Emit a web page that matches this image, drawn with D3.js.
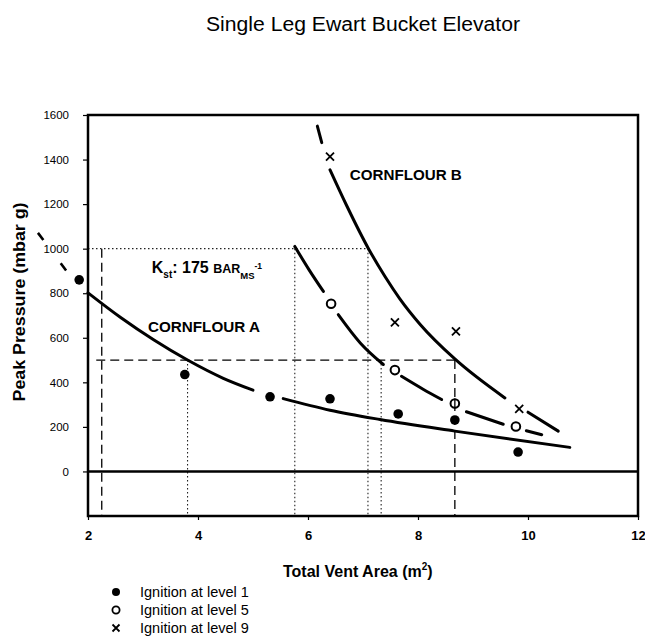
<!DOCTYPE html>
<html>
<head>
<meta charset="utf-8">
<script src="https://cdn.jsdelivr.net/npm/d3@7"></script>
<style>
  body { margin: 0; background: #fff; }
  svg { display: block; }
  text { font-family: "Liberation Sans", Arial, Helvetica, sans-serif; fill: #000; }
</style>
</head>
<body>
<svg id="chart" width="645" height="637"></svg>
<script>
// Axis ticks
const xTicks = [2, 4, 6, 8, 10, 12];
const yTicks = [0, 200, 400, 600, 800, 1000, 1200, 1400, 1600];

// Measured peak pressures (vent area m², pressure mbar g)
const level1 = [[1.84, 860], [3.76, 435], [5.31, 335], [6.40, 326], [7.64, 258], [8.67, 231], [9.82, 87]];
const level5 = [[6.42, 753], [7.58, 455], [8.67, 305], [9.78, 202]];
const level9 = [[6.40, 1413], [7.58, 669], [8.69, 629], [9.84, 281]];

// Fitted curves, drawn as broken segments
const curveA = [
  [[2.0, 802], [2.6, 690], [3.2, 590], [3.81, 500], [4.46, 418], [5.0, 365]],
  [[5.55, 327], [6.4, 275], [7.31, 233], [8.67, 181], [10.76, 108]]
];
const curveB5 = [
  [[5.76, 1010], [6.02, 905], [6.28, 808]],
  [[6.55, 704], [6.95, 577], [7.37, 480]],
  [[7.70, 427], [8.10, 368], [8.43, 323]],
  [[8.88, 268], [9.55, 212]],
  [[9.97, 183], [10.25, 165]]
];
const curveB9 = [
  [[6.17, 1550], [6.25, 1476]],
  [[6.40, 1354], [6.70, 1195], [7.10, 1000], [7.40, 875], [7.67, 775], [8.04, 660], [8.67, 505], [9.58, 330]],
  [[10.0, 266], [10.55, 181]]
];
// Short dashed extension beyond the pressure axis
const curveAExt = [[1.09, 1071], [1.62, 896]];

// Reading guides: [x1, y1, x2, y2]
const dashedGuides = [
  [2.25, 1000, 2.25, -200],
  [2.15, 500, 8.67, 500],
  [8.67, 500, 8.67, -200]
];
const dottedGuides = [
  [2.0, 1000, 7.09, 1000],
  [3.81, 500, 3.81, -200],
  [5.76, 1000, 5.76, -200],
  [7.09, 1000, 7.09, -200],
  [7.33, 500, 7.33, -200]
];

// Curve labels (data-space anchors)
const labelA = { text: "CORNFLOUR A", at: [3.09, 628] };
const labelB = { text: "CORNFLOUR B", at: [6.76, 1309] };
const kstAt = [3.16, 892];

const legendItems = ["Ignition at level 1", "Ignition at level 5", "Ignition at level 9"];

const svg = d3.select("#chart");
const x = d3.scaleLinear().domain([2, 12]).range([88, 638]);
const y = d3.scaleLinear().domain([-200, 1600]).range([516, 115]);

// Title
svg.append("text")
  .attr("x", 363).attr("y", 31)
  .attr("text-anchor", "middle")
  .attr("font-size", 20)
  .attr("textLength", 314).attr("lengthAdjust", "spacingAndGlyphs")
  .text("Single Leg Ewart Bucket Elevator");

// Axes
const gy = svg.append("g").attr("transform", `translate(${x(2)},0)`)
  .call(d3.axisLeft(y).tickValues(yTicks).tickSize(5).tickPadding(14).tickFormat(d3.format("d")));
gy.select(".domain").remove();
gy.selectAll("text").attr("font-size", 11.5).style("font-family", "Liberation Sans, Arial, sans-serif");
gy.selectAll("line").attr("stroke-width", 1.2);

const gx = svg.append("g").attr("transform", `translate(0,${y(-200)})`)
  .call(d3.axisBottom(x).tickValues(xTicks).tickSize(4).tickPadding(11).tickFormat(d3.format("d")));
gx.select(".domain").remove();
gx.selectAll("text").attr("font-size", 13).attr("font-weight", "bold").style("font-family", "Liberation Sans, Arial, sans-serif");
gx.selectAll("line").attr("stroke-width", 1.2);

// Axis titles
svg.append("text")
  .attr("transform", `translate(25,302) rotate(-90)`)
  .attr("text-anchor", "middle")
  .attr("font-size", 17).attr("font-weight", "bold")
  .attr("textLength", 199).attr("lengthAdjust", "spacingAndGlyphs")
  .text("Peak Pressure (mbar g)");

const xt = svg.append("text")
  .attr("x", 283).attr("y", 577)
  .attr("font-size", 16).attr("font-weight", "bold");
xt.append("tspan").text("Total Vent Area (m");
xt.append("tspan").attr("font-size", 10).attr("dy", -7).text("2");
xt.append("tspan").attr("dy", 7).text(")");

// Guides
const guide = svg.append("g").attr("fill", "none").attr("stroke", "#000");
guide.selectAll(".dash").data(dashedGuides).join("line")
  .attr("x1", d => x(d[0])).attr("y1", d => y(d[1]))
  .attr("x2", d => x(d[2])).attr("y2", d => y(d[3]))
  .attr("stroke-width", 1.3).attr("stroke-dasharray", "9,5");
guide.selectAll(".dot").data(dottedGuides).join("line")
  .attr("x1", d => x(d[0])).attr("y1", d => y(d[1]))
  .attr("x2", d => x(d[2])).attr("y2", d => y(d[3]))
  .attr("stroke-width", 1.1).attr("stroke-dasharray", "1.5,2.5").attr("stroke", "#222");

// Zero line
svg.append("line")
  .attr("x1", x(2)).attr("x2", x(12)).attr("y1", y(0)).attr("y2", y(0))
  .attr("stroke", "#000").attr("stroke-width", 2.5);

// Fitted curves
const line = d3.line().x(d => x(d[0])).y(d => y(d[1])).curve(d3.curveMonotoneX);
const curves = svg.append("g").attr("fill", "none").attr("stroke", "#000")
  .attr("stroke-width", 3).attr("stroke-linecap", "round");
[curveA, curveB5, curveB9].forEach(segs => {
  curves.selectAll(null).data(segs).join("path").attr("d", line);
});
svg.append("path")
  .attr("d", d3.line().x(d => x(d[0])).y(d => y(d[1]))(curveAExt))
  .attr("fill", "none").attr("stroke", "#000").attr("stroke-width", 2.6)
  .attr("stroke-dasharray", "9,29");

// Markers
const marks = svg.append("g");
marks.selectAll(".l1").data(level1).join("circle")
  .attr("cx", d => x(d[0])).attr("cy", d => y(d[1])).attr("r", 4.8).attr("fill", "#000");
marks.selectAll(".l5").data(level5).join("circle")
  .attr("cx", d => x(d[0])).attr("cy", d => y(d[1])).attr("r", 4.3)
  .attr("fill", "#fff").attr("stroke", "#000").attr("stroke-width", 2);
const cross = (g, cx, cy, s) => g.append("path")
  .attr("d", `M${cx - s},${cy - s}L${cx + s},${cy + s}M${cx - s},${cy + s}L${cx + s},${cy - s}`)
  .attr("stroke", "#000").attr("stroke-width", 1.8).attr("fill", "none");
level9.forEach(d => cross(marks, x(d[0]), y(d[1]), 4));

// Guide through the 8.67 m² open circle sits on top of the marker
svg.append("line")
  .attr("x1", x(dashedGuides[2][0])).attr("x2", x(dashedGuides[2][0]))
  .attr("y1", y(level5[2][1]) - 5).attr("y2", y(level5[2][1]) + 5)
  .attr("stroke", "#000").attr("stroke-width", 1.3);

// Plot frame
svg.append("rect")
  .attr("x", x(2)).attr("y", y(1600))
  .attr("width", x(12) - x(2)).attr("height", y(-200) - y(1600))
  .attr("fill", "none").attr("stroke", "#000").attr("stroke-width", 2.5);

// Curve labels
svg.append("text").attr("x", x(labelA.at[0])).attr("y", y(labelA.at[1]))
  .attr("font-size", 15).attr("font-weight", "bold")
  .attr("textLength", 112).attr("lengthAdjust", "spacingAndGlyphs").text(labelA.text);
svg.append("text").attr("x", x(labelB.at[0])).attr("y", y(labelB.at[1]))
  .attr("font-size", 15).attr("font-weight", "bold")
  .attr("textLength", 112).attr("lengthAdjust", "spacingAndGlyphs").text(labelB.text);

const k = svg.append("text").attr("x", x(kstAt[0])).attr("y", y(kstAt[1])).attr("font-weight", "bold");
k.append("tspan").attr("font-size", 16).text("K");
k.append("tspan").attr("font-size", 10).attr("dy", 5).text("st");
k.append("tspan").attr("font-size", 16).attr("dy", -5).text(": 175 ");
k.append("tspan").attr("font-size", 12.5).text("BAR");
k.append("tspan").attr("font-size", 9.5).attr("dy", 6).text("MS");
k.append("tspan").attr("font-size", 8.5).attr("dy", -10).text("-1");

// Legend
const lg = svg.append("g");
const rowY = i => 592 + i * 18;
lg.append("circle").attr("cx", 116).attr("cy", rowY(0)).attr("r", 4).attr("fill", "#000");
lg.append("circle").attr("cx", 116).attr("cy", rowY(1)).attr("r", 3.6)
  .attr("fill", "#fff").attr("stroke", "#000").attr("stroke-width", 1.8);
cross(lg, 116, rowY(2), 3.5);
lg.selectAll("text").data(legendItems).join("text")
  .attr("x", 140).attr("y", (d, i) => rowY(i) + 5)
  .attr("font-size", 14.5)
  .text(d => d);
</script>
</body>
</html>
